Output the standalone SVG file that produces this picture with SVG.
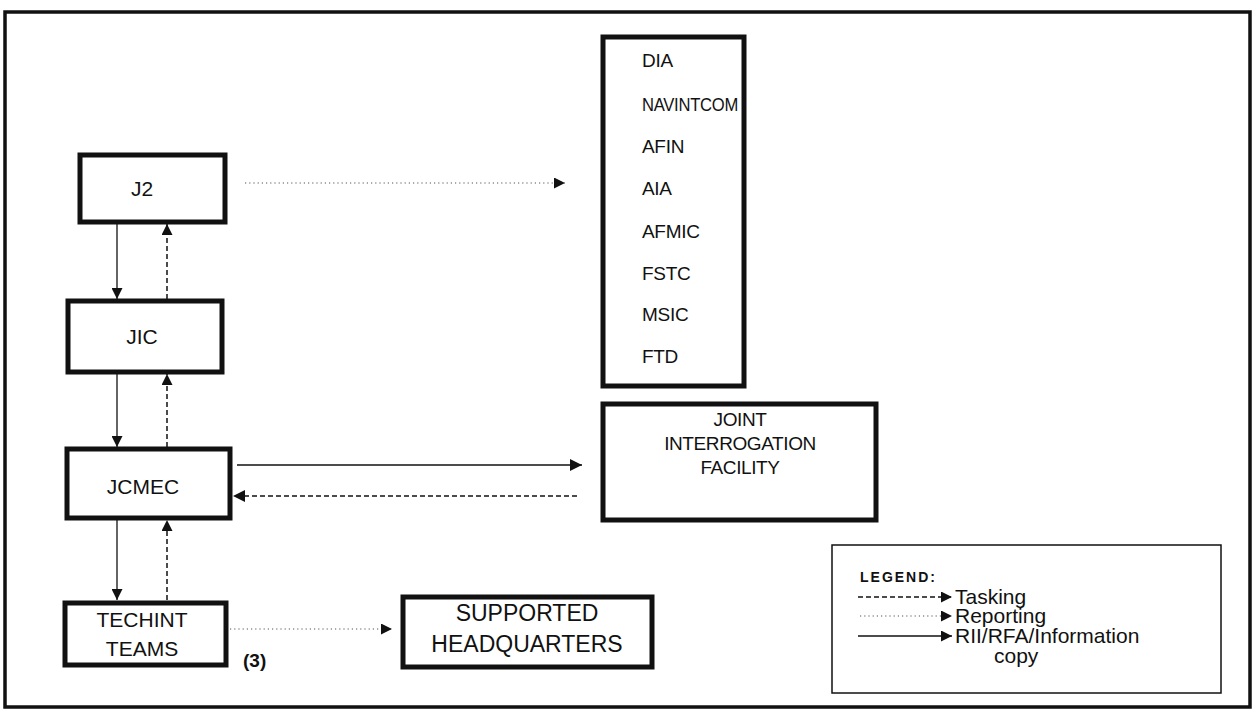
<svg xmlns="http://www.w3.org/2000/svg" width="1256" height="721" viewBox="0 0 1256 721">
<style>
text{font-family:"Liberation Sans",Arial,sans-serif;fill:#111}
.box{fill:#fff;stroke:#111;stroke-width:5}
.lg{fill:#fff;stroke:#111;stroke-width:1.5}
.t{font-size:21px;text-anchor:middle}
.j{font-size:19px;text-anchor:middle;letter-spacing:-0.4px}
.l{font-size:19px;letter-spacing:-0.3px}
.solid{stroke:#111;stroke-width:1.3;fill:none}
.dash{stroke:#111;stroke-width:1.5;stroke-dasharray:5 3;fill:none}
.dot{stroke:#555;stroke-width:1.2;stroke-dasharray:1.2 3;fill:none}
.lt{font-size:21px}
</style>
<defs>
<marker id="ah" viewBox="0 0 10 10" refX="10" refY="5" markerWidth="11" markerHeight="11" markerUnits="userSpaceOnUse" orient="auto"><path d="M0,0L10,5L0,10Z" fill="#111"/></marker>
<marker id="ahs" viewBox="0 0 10 10" refX="10" refY="5" markerWidth="12" markerHeight="12" markerUnits="userSpaceOnUse" orient="auto"><path d="M0,0L10,5L0,10Z" fill="#111"/></marker>
</defs>
<rect x="0" y="0" width="1256" height="721" fill="#fff"/>
<rect x="5" y="12" width="1245" height="695" fill="none" stroke="#111" stroke-width="3.5"/>

<g id="connectors">
<line class="dot" x1="245" y1="183" x2="565" y2="183" marker-end="url(#ah)"/>
<line class="solid" x1="117" y1="224" x2="117" y2="299" marker-end="url(#ah)"/>
<line class="dash" x1="167" y1="299" x2="167" y2="224" marker-end="url(#ah)"/>
<line class="solid" x1="117" y1="374" x2="117" y2="447" marker-end="url(#ah)"/>
<line class="dash" x1="167" y1="447" x2="167" y2="374" marker-end="url(#ah)"/>
<line class="solid" x1="117" y1="520" x2="117" y2="600" marker-end="url(#ah)"/>
<line class="dash" x1="167" y1="600" x2="167" y2="520" marker-end="url(#ah)"/>
<line class="solid" x1="237" y1="465" x2="582" y2="465" marker-end="url(#ahs)"/>
<line class="dash" x1="577" y1="496" x2="233" y2="496" marker-end="url(#ahs)"/>
<line class="dot" x1="230" y1="629" x2="392" y2="629" marker-end="url(#ah)"/>
</g>

<g id="j2"><rect class="box" x="80" y="155" width="145" height="67"/><text class="t" x="142" y="196">J2</text></g>
<g id="jic"><rect class="box" x="68" y="301" width="154" height="71"/><text class="t" x="142" y="344">JIC</text></g>
<g id="jcmec"><rect class="box" x="67" y="449" width="163" height="69"/><text class="t" x="143" y="494">JCMEC</text></g>
<g id="techint"><rect class="box" x="65" y="603" width="161" height="62"/><text class="t" x="142" y="627">TECHINT</text><text class="t" x="142" y="656">TEAMS</text></g>
<g id="techint-count"><text x="243" y="667" style="font-size:19px;font-weight:bold">(3)</text></g>

<g id="agencies"><rect class="box" x="603" y="37" width="141" height="349"/>
<text class="l" x="642" y="67">DIA</text>
<text class="l" x="642" y="111" textLength="96" lengthAdjust="spacingAndGlyphs">NAVINTCOM</text>
<text class="l" x="642" y="153">AFIN</text>
<text class="l" x="642" y="195">AIA</text>
<text class="l" x="642" y="238">AFMIC</text>
<text class="l" x="642" y="280">FSTC</text>
<text class="l" x="642" y="321">MSIC</text>
<text class="l" x="642" y="363">FTD</text>
</g>

<g id="jif"><rect class="box" x="603" y="404" width="273" height="116"/>
<text class="j" x="740" y="426">JOINT</text>
<text class="j" x="740" y="450">INTERROGATION</text>
<text class="j" x="740" y="474">FACILITY</text>
</g>

<g id="supported"><rect class="box" x="403" y="597" width="249" height="70"/>
<text class="t" x="527" y="621" style="font-size:23px">SUPPORTED</text>
<text class="t" x="527" y="652" style="font-size:23px">HEADQUARTERS</text>
</g>

<g id="legend"><rect class="lg" x="832" y="545" width="389" height="148"/>
<text x="860" y="582" style="font-size:14px;font-weight:bold;letter-spacing:2px">LEGEND:</text>
<line class="dash" x1="858" y1="597" x2="952" y2="597" marker-end="url(#ah)"/>
<text class="lt" x="955" y="604">Tasking</text>
<line class="dot" x1="860" y1="616" x2="952" y2="616" marker-end="url(#ah)"/>
<text class="lt" x="955" y="623">Reporting</text>
<line class="solid" x1="858" y1="636" x2="952" y2="636" marker-end="url(#ah)"/>
<text class="lt" x="955" y="643">RII/RFA/Information</text>
<text class="lt" x="994" y="663">copy</text>
</g>
</svg>
